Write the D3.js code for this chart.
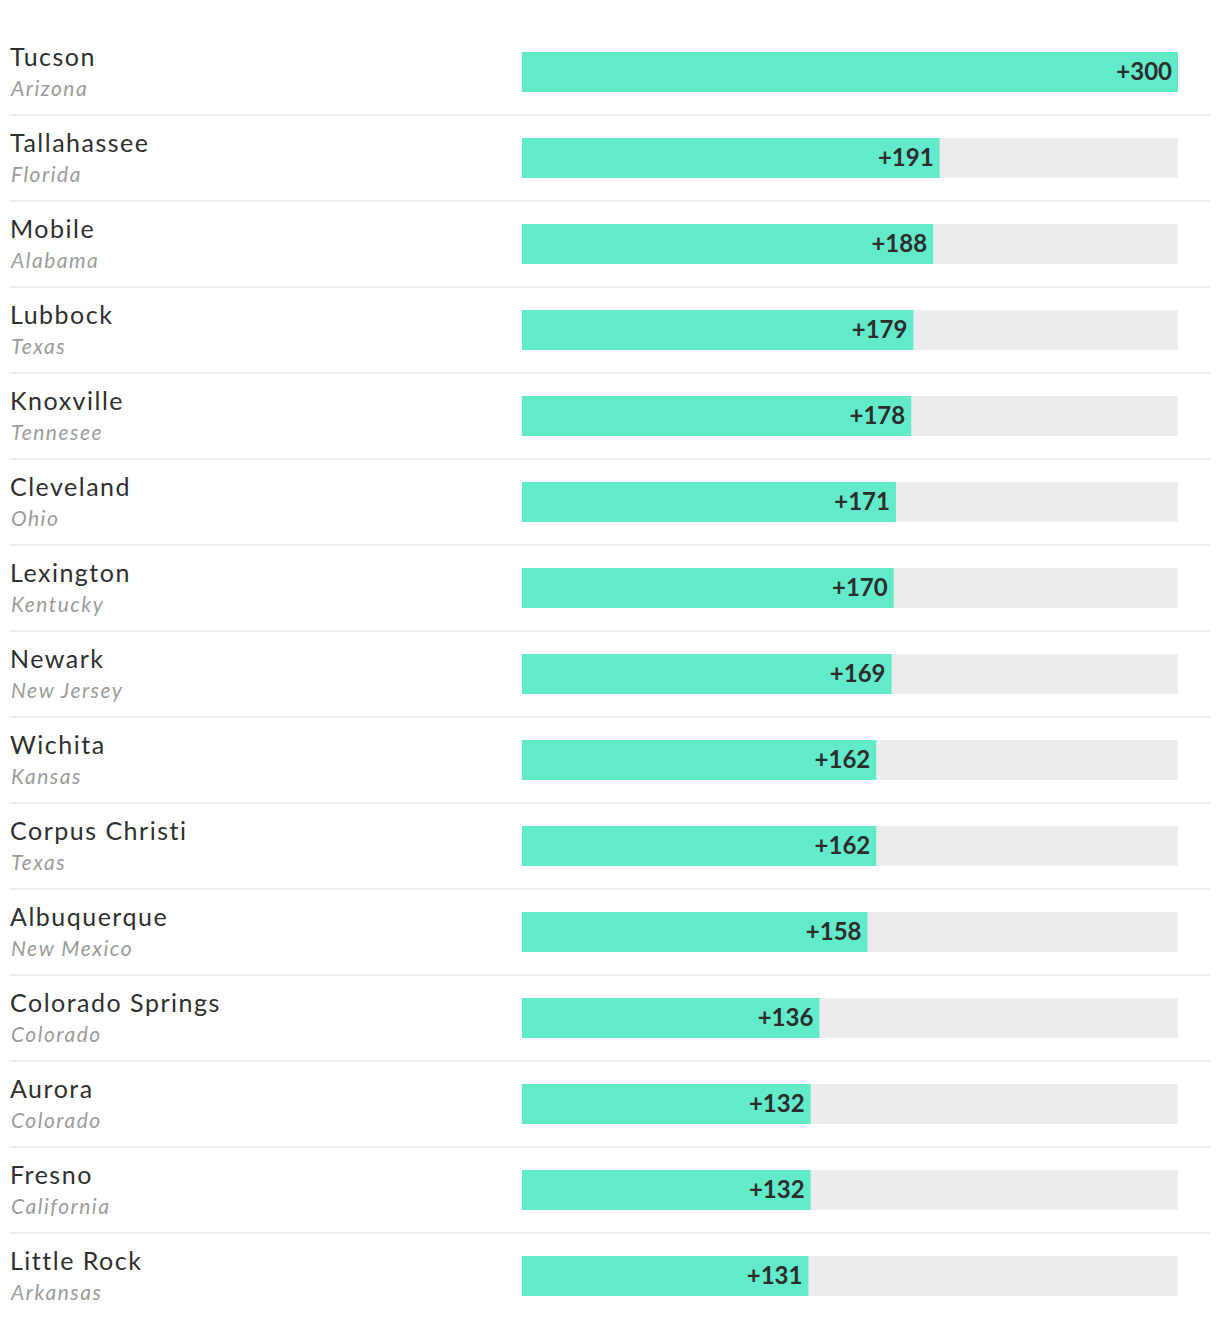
<!DOCTYPE html>
<html><head><meta charset="utf-8">
<script src="https://cdn.jsdelivr.net/npm/d3@7"></script>
<style>body{margin:0;background:#fff;}svg{display:block;}</style>
</head><body><div id="chart"></div>
<script>
const cities = ["Tucson","Tallahassee","Mobile","Lubbock","Knoxville","Cleveland","Lexington","Newark","Wichita","Corpus Christi","Albuquerque","Colorado Springs","Aurora","Fresno","Little Rock"];
const states = ["Arizona","Florida","Alabama","Texas","Tennesee","Ohio","Kentucky","New Jersey","Kansas","Texas","New Mexico","Colorado","Colorado","California","Arkansas"];
const values = [300,191,188,179,178,171,170,169,162,162,158,136,132,132,131];

const W = 1220, H = 1328;
const rowH = 86, top0 = 30;
const svg = d3.select("#chart").append("svg").attr("width", W).attr("height", H);
const x = d3.scaleLinear().domain([0, 300]).range([522, 1178]);
const y = d3.scaleBand().domain(d3.range(cities.length)).range([top0, top0 + rowH*cities.length]).padding(0);

const font = "Lato, 'Open Sans', sans-serif";
const g = svg.selectAll("g.row").data(cities).enter().append("g").attr("class","row")
  .attr("transform", (d,i)=>`translate(0,${y(i)})`);

g.filter((d,i)=> i < cities.length-1).append("rect")
  .attr("x",10).attr("width",1200).attr("y",84).attr("height",2).attr("fill","#ededed");

g.append("rect").attr("x", x(0)).attr("y", 22).attr("height", 40)
  .attr("width", x(300)-x(0)).attr("fill", "#ececec");
g.append("rect").attr("x", x(0)).attr("y", 22).attr("height", 40)
  .attr("width", (d,i)=> x(values[i]) - x(0)).attr("fill", "#62ebca");

g.append("text").attr("x",10).attr("y",36).text(d=>d)
  .attr("font-family",font).attr("font-size",25).attr("letter-spacing",1.5).attr("fill","#2f2f2f");
g.append("text").attr("x",11).attr("y",66).text((d,i)=>states[i])
  .attr("font-family",font).attr("font-size",21).attr("letter-spacing",1.5).attr("font-style","italic").attr("fill","#9c9c9c");
g.append("text").attr("x",(d,i)=>x(values[i])-6).attr("y",50).attr("text-anchor","end")
  .text((d,i)=>"+"+values[i])
  .attr("font-family",font).attr("font-size",24).attr("font-weight","bold").attr("fill","#2d2d2d");
</script></body></html>
